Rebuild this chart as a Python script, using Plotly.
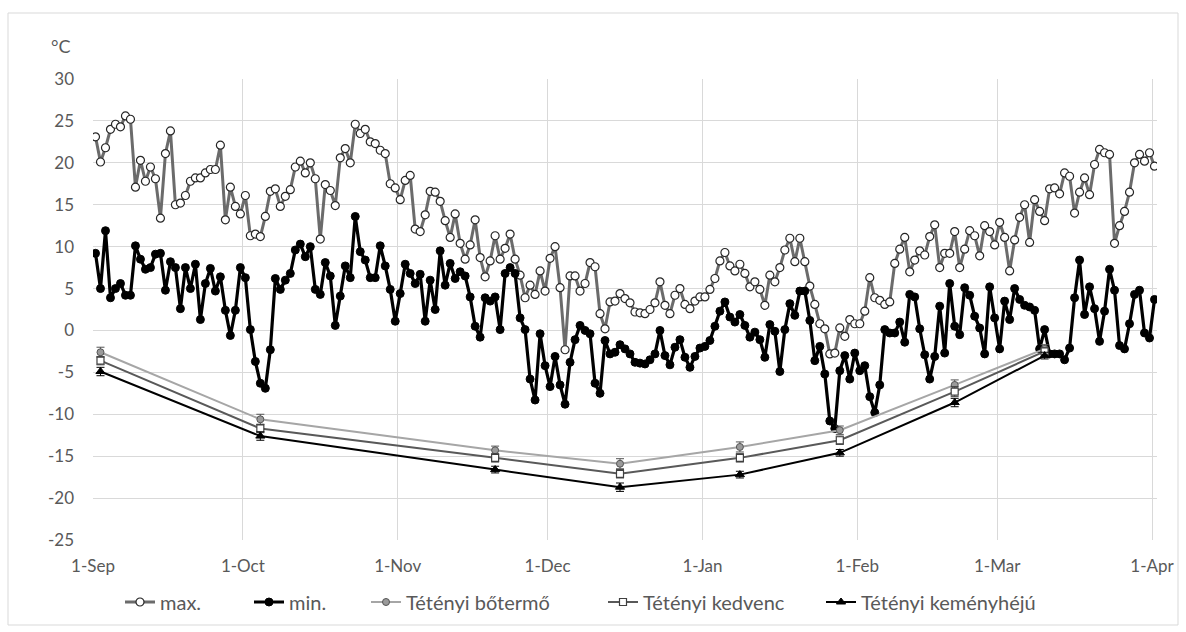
import pandas as pd
import plotly.graph_objects as go

# Daily air temperature, 1 Sep - 1 Apr (°C)
t_max = [
    23.1, 20.1, 21.8, 24.0, 24.6, 24.3, 25.6, 25.2, 17.1, 20.3,
    17.8, 19.5, 18.1, 13.4, 21.1, 23.8, 15.0, 15.2, 16.1, 17.8,
    18.2, 18.2, 18.8, 19.2, 19.2, 22.1, 13.2, 17.1, 14.8, 13.9,
    16.1, 11.3, 11.5, 11.2, 13.6, 16.6, 16.9, 14.8, 16.0, 16.8,
    19.5, 20.2, 18.8, 20.0, 18.1, 10.9, 17.4, 16.7, 14.9, 20.6,
    21.7, 20.0, 24.6, 23.5, 24.0, 22.5, 22.3, 21.5, 21.1, 17.5,
    17.0, 15.6, 17.9, 18.5, 12.1, 11.8, 13.8, 16.6, 16.5, 15.4,
    13.1, 11.1, 13.9, 10.4, 8.5, 10.2, 13.2, 8.7, 6.4, 8.3,
    11.3, 8.5, 9.8, 11.5, 8.5, 6.6, 3.9, 5.4, 4.3, 7.1,
    4.7, 8.6, 10.0, 5.1, -2.3, 6.5, 6.5, 4.7, 5.6, 8.1,
    7.6, 2.0, 0.2, 3.4, 3.5, 4.4, 3.8, 3.3, 2.2, 2.1,
    2.0, 2.5, 3.3, 5.8, 3.0, 2.0, 4.2, 5.0, 3.1, 2.6,
    3.5, 4.0, 4.0, 4.9, 6.2, 8.3, 9.3, 7.7, 7.1, 7.9,
    6.8, 5.2, 5.8, 4.9, 3.0, 6.6, 5.8, 7.5, 9.6, 11.0,
    8.2, 11.0, 8.2, 5.3, 3.1, 0.8, 0.2, -2.8, -2.7, 0.3,
    -0.7, 1.3, 0.8, 0.8, 2.3, 6.3, 3.9, 3.6, 3.1, 3.4,
    8.0, 9.7, 11.1, 7.0, 8.4, 9.5, 9.0, 11.2, 12.6, 7.5,
    9.2, 9.2, 11.8, 7.5, 9.7, 11.9, 11.3, 8.9, 12.5, 11.8,
    10.2, 12.9, 11.1, 7.1, 10.8, 13.5, 15.0, 10.5, 15.6, 14.2,
    13.1, 16.9, 17.0, 16.3, 18.8, 18.4, 14.0, 16.5, 18.2, 16.2,
    19.8, 21.6, 21.2, 21.0, 10.4, 12.5, 14.2, 16.5, 20.0, 21.0,
    20.2, 21.2, 19.6,
]
t_min = [
    9.2, 5.0, 11.9, 3.9, 5.0, 5.6, 4.2, 4.2, 10.1, 8.5,
    7.3, 7.5, 9.1, 9.2, 4.8, 8.2, 7.5, 2.6, 7.5, 5.0,
    7.9, 1.3, 5.6, 7.4, 4.7, 6.4, 2.4, -0.6, 2.4, 7.5,
    6.3, 0.1, -3.7, -6.3, -6.9, -2.3, 6.2, 4.9, 6.0, 6.8,
    9.6, 10.3, 8.8, 10.0, 4.9, 4.3, 8.1, 6.5, 0.6, 4.1,
    7.7, 6.3, 13.6, 9.4, 8.4, 6.3, 6.3, 10.1, 7.7, 4.9,
    1.1, 4.4, 7.9, 6.8, 5.6, 6.7, 1.1, 6.0, 2.5, 9.5,
    5.4, 8.0, 6.2, 7.0, 6.5, 4.0, 0.5, -0.8, 3.9, 3.5,
    4.0, 0.1, 6.8, 7.5, 6.8, 1.5, 0.1, -5.8, -8.3, -0.4,
    -4.2, -6.7, -3.1, -6.5, -8.8, -3.8, -1.1, 0.6, 0.0, -0.4,
    -6.3, -7.5, -1.2, -2.8, -2.6, -1.7, -2.2, -2.8, -3.8, -3.9,
    -4.0, -3.5, -2.8, 0.0, -3.0, -4.1, -2.0, -1.1, -3.2, -4.4,
    -3.1, -2.1, -1.9, -1.2, 0.5, 2.3, 3.4, 1.6, 1.0, 1.9,
    0.6, -0.8, -0.2, -1.1, -3.2, 0.7, -0.1, -4.9, 0.1, 3.2,
    1.8, 4.7, 4.7, 1.2, -3.6, -1.9, -5.2, -10.8, -11.7, -4.8,
    -3.0, -5.8, -2.7, -4.8, -4.2, -7.9, -9.8, -6.5, 0.1, -0.3,
    -0.3, 1.0, -1.4, 4.3, 4.0, 0.2, -2.9, -5.8, -3.1, 2.9,
    -2.7, 5.6, 0.5, -0.5, 5.1, 4.2, 1.7, 0.3, -2.8, 5.2,
    1.5, -2.2, 3.5, 1.3, 5.0, 3.7, 3.0, 2.8, 2.4, -2.2,
    0.1, -2.8, -2.8, -2.8, -3.5, -2.1, 3.9, 8.4, 1.9, 5.2,
    2.6, -1.3, 2.3, 7.3, 4.8, -1.8, -2.2, 0.8, 4.3, 4.8,
    -0.3, -0.9, 3.7,
]

# Frost hardiness of walnut cultivars (°C) on the sampling dates
sample_dates = ["2017-09-02", "2017-10-04", "2017-11-20", "2017-12-15",
                "2018-01-08", "2018-01-28", "2018-02-20", "2018-03-10"]
botermo = [-2.6, -10.6, -14.3, -15.9, -13.9, -11.9, -6.5, -2.2]
kedvenc = [-3.6, -11.7, -15.2, -17.1, -15.2, -13.1, -7.3, -2.5]
kemenyheju = [-4.9, -12.6, -16.6, -18.7, -17.2, -14.6, -8.6, -3.0]
botermo_err = [0.6, 0.6, 0.5, 0.6, 0.6, 0.5, 0.6, 0.5]
kedvenc_err = [0.5, 0.5, 0.5, 0.5, 0.5, 0.5, 0.6, 0.4]
kemenyheju_err = [0.5, 0.5, 0.4, 0.5, 0.4, 0.4, 0.5, 0.4]

y_ticks = list(range(-25, 31, 5))
y_tick_text = [str(v) for v in y_ticks]  # plain hyphen minus

# each value is plotted at the middle of its day
days = pd.date_range("2017-09-01 12:00", periods=len(t_max), freq="D")
samples = pd.to_datetime(sample_dates) + pd.Timedelta(hours=12)

FONT = "Lato, Open Sans, sans-serif"
TEXT = "#595959"

# figure geometry (px)
W, H = 1186, 632
ML, MR, MT, MB = 93, 29, 79, 92
PW, PH = W - ML - MR, H - MT - MB


def px_x(x):
    return (x - ML) / PW


def px_y(y):
    return (H - MB - y) / PH


fig = go.Figure()

fig.add_trace(go.Scatter(
    x=days, y=t_max, name="max.", mode="lines+markers", legend="legend",
    line=dict(color="#6b6b6b", width=3),
    marker=dict(symbol="circle", size=8, color="white",
                line=dict(color="#262626", width=1.2)),
))
fig.add_trace(go.Scatter(
    x=days, y=t_min, name="min.", mode="lines+markers", legend="legend2",
    line=dict(color="#000000", width=3.2),
    marker=dict(symbol="circle", size=8, color="#000000",
                line=dict(color="#000000", width=1)),
))
fig.add_trace(go.Scatter(
    x=samples, y=botermo, name="Tétényi bőtermő", mode="lines+markers",
    legend="legend3",
    line=dict(color="#a6a6a6", width=2),
    marker=dict(symbol="circle", size=7, color="#9a9a9a",
                line=dict(color="#555555", width=1)),
    error_y=dict(type="data", array=botermo_err, color="#555555",
                 thickness=1, width=4),
))
fig.add_trace(go.Scatter(
    x=samples, y=kedvenc, name="Tétényi kedvenc", mode="lines+markers",
    legend="legend4",
    line=dict(color="#595959", width=2),
    marker=dict(symbol="square", size=7, color="white",
                line=dict(color="#404040", width=1.2)),
    error_y=dict(type="data", array=kedvenc_err, color="#404040",
                 thickness=1, width=4),
))
fig.add_trace(go.Scatter(
    x=samples, y=kemenyheju, name="Tétényi keményhéjú", mode="lines+markers",
    legend="legend5",
    line=dict(color="#000000", width=2),
    marker=dict(symbol="triangle-up", size=8, color="#000000",
                line=dict(color="#000000", width=1)),
    error_y=dict(type="data", array=kemenyheju_err, color="#000000",
                 thickness=1, width=4),
))


def legend_box(left_px):
    return dict(orientation="h", x=px_x(left_px), xanchor="left",
                y=px_y(602), yanchor="middle", itemwidth=30,
                bgcolor="rgba(0,0,0,0)",
                font=dict(family=FONT, size=20, color=TEXT))


fig.update_layout(
    width=W, height=H,
    margin=dict(l=ML, r=MR, t=MT, b=MB, autoexpand=False),
    paper_bgcolor="white", plot_bgcolor="white",
    font=dict(family=FONT, size=17, color=TEXT),
    showlegend=True,
    legend=legend_box(120),
    legend2=legend_box(249),
    legend3=legend_box(366),
    legend4=legend_box(603),
    legend5=legend_box(821),
    shapes=[dict(type="rect", xref="paper", yref="paper",
                 x0=px_x(8), x1=px_x(1178), y0=px_y(625), y1=px_y(13),
                 line=dict(color="#d9d9d9", width=1), fillcolor="rgba(0,0,0,0)",
                 layer="below")],
    annotations=[dict(text="°C", xref="paper", yref="paper",
                      x=px_x(73), y=px_y(46),
                      xanchor="right", yanchor="middle", showarrow=False,
                      font=dict(family=FONT, size=18, color=TEXT))],
)
fig.update_xaxes(
    type="date", range=["2017-09-01", "2018-04-02"],
    tick0="2017-09-01", dtick="M1", tickformat="%-d-%b",
    showgrid=True, gridcolor="#d9d9d9", gridwidth=1,
    showline=False, zeroline=False, ticks="", ticklabelstandoff=14,
    tickfont=dict(family=FONT, size=17, color=TEXT),
)
fig.update_yaxes(
    range=[-25, 30], tickvals=y_ticks, ticktext=y_tick_text,
    showgrid=True, gridcolor="#d9d9d9", gridwidth=1,
    zeroline=False, showline=False, ticks="", ticklabelstandoff=18,
    tickfont=dict(family=FONT, size=17, color=TEXT),
)

fig.write_html("out.html")
